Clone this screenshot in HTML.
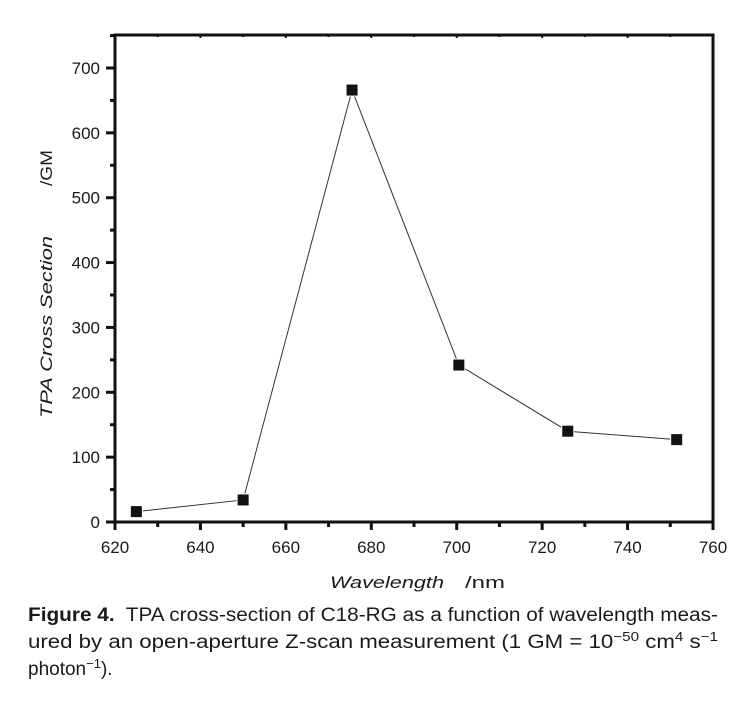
<!DOCTYPE html>
<html><head><meta charset="utf-8"><style>
html,body{margin:0;padding:0;background:#fff;}
svg{display:block;}
.tk{font-family:"Liberation Sans",sans-serif;font-size:17px;fill:#1a1a1a;}
.cap{font-family:"Liberation Sans","DejaVu Sans",sans-serif;font-size:19px;fill:#1a1a1a;}
</style></head><body>
<svg id="chart" width="740" height="710" viewBox="0 0 740 710">
<g id="axes"></g>
<g id="series"></g>
<g>
<text class="tk" x="330" y="588" font-style="italic" font-size="21" textLength="114" lengthAdjust="spacingAndGlyphs">Wavelength</text>
<text class="tk" x="465" y="588" font-size="21" textLength="40" lengthAdjust="spacingAndGlyphs">/nm</text>
</g>
<g>
<text class="tk" transform="translate(52,418) rotate(-90)" font-style="italic" font-size="21" textLength="182" lengthAdjust="spacingAndGlyphs">TPA  Cross  Section</text>
<text class="tk" transform="translate(52,186) rotate(-90)" font-size="21" textLength="36" lengthAdjust="spacingAndGlyphs">/GM</text>
</g>
<g>
<text class="cap" x="28" y="621" textLength="690" lengthAdjust="spacingAndGlyphs"><tspan font-weight="bold">Figure 4.</tspan>&#160; TPA cross-section of C18-RG as a function of wavelength meas-</text>
<text class="cap" x="28" y="648" textLength="690" lengthAdjust="spacingAndGlyphs">ured by an open-aperture Z-scan measurement (1 GM = 10<tspan dy="-7" font-size="13">−50</tspan><tspan dy="7"> cm</tspan><tspan dy="-7" font-size="13">4</tspan><tspan dy="7"> s</tspan><tspan dy="-7" font-size="13">−1</tspan></text>
<text class="cap" x="28" y="675" font-size="20">photon<tspan dy="-7" font-size="13">−1</tspan><tspan dy="7">).</tspan></text>
</g>
</svg>
<script>
const wavelengths=[625,650,675.5,700.5,726,751.5];
const crossSections=[16,34,666,242,140,127];
const xTicks=[620,640,660,680,700,720,740,760];
const yTicks=[0,100,200,300,400,500,600,700];
const NS="http://www.w3.org/2000/svg";
const L=115,R=713,T=35,B=522;
function xs(v){return L+(v-620)*(R-L)/140;}
function ys(v){return B-v*(B-68)/700;}
function mk(t,a,p){const e=document.createElementNS(NS,t);for(const k in a)e.setAttribute(k,a[k]);p.appendChild(e);return e;}
const ax=document.getElementById('axes');
const fr=mk('rect',{x:L,y:T,width:R-L,height:B-T,fill:'none',stroke:'#111','stroke-width':3},ax);


xTicks.forEach((v,i)=>{
  const x=xs(v);
  const t=mk('line',{x1:x,x2:x,y1:B,y2:B+8,stroke:'#111','stroke-width':3},ax);
  
  
  mk('line',{x1:x,x2:x,y1:T,y2:T+3,stroke:'#111','stroke-width':2},ax);
  if(i<xTicks.length-1){const m=xs(v+10);
    mk('line',{x1:m,x2:m,y1:B,y2:B+5,stroke:'#111','stroke-width':3},ax);
    mk('line',{x1:m,x2:m,y1:T,y2:T+2,stroke:'#111','stroke-width':2},ax);}
  const lb=mk('text',{x:x,y:B+31,'text-anchor':'middle',class:'tk'},ax);
  lb.textContent=v;
  
  
});
yTicks.forEach((v)=>{
  const y=ys(v);
  const t=mk('line',{x1:L-9,x2:L,y1:y,y2:y,stroke:'#111','stroke-width':3},ax);
  
  
  const m=ys(v+50);
  mk('line',{x1:L-5,x2:L,y1:m,y2:m,stroke:'#111','stroke-width':3},ax);
  const lb=mk('text',{x:L-15,y:y+6,'text-anchor':'end',class:'tk'},ax);
  lb.textContent=v;
  
  
});
const sg=document.getElementById('series');
const pts=wavelengths.map((w,i)=>xs(w)+','+ys(crossSections[i])).join(' ');
const pl=mk('polyline',{points:pts,fill:'none',stroke:'#333','stroke-width':1},sg);


wavelengths.forEach((w,i)=>{
  const r=mk('rect',{x:xs(w)-5.5,y:ys(crossSections[i])-5.5,width:11,height:11,fill:'#111',stroke:'#fff','stroke-width':2,'paint-order':'stroke'},sg);
  
  
});
</script>
</body></html>
